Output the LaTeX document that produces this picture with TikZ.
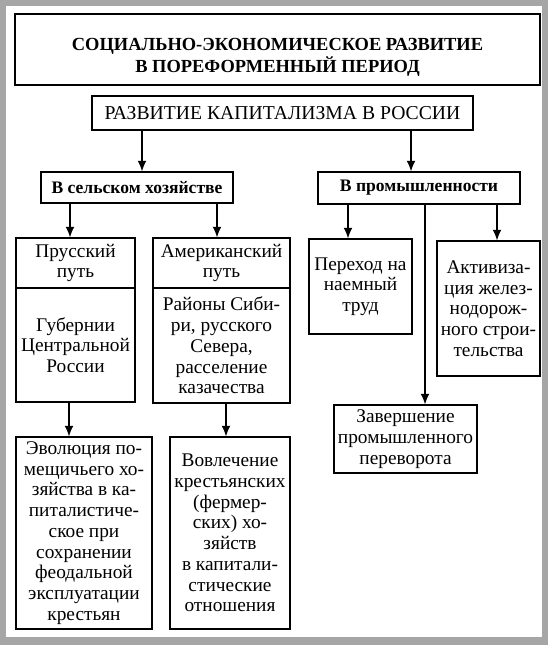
\documentclass[tikz,border=0pt]{standalone}
\usepackage{fontspec}
\setmainfont{Liberation Serif}
\usetikzlibrary{arrows.meta}

\begin{document}
\begin{tikzpicture}[x=0.02cm, y=-0.02cm,
    block/.style ={draw, thick, rectangle, inner sep=0pt, align=center,
      font=\fontsize{11}{11.8}\selectfont},
    heading/.style ={block, font=\bfseries\fontsize{10}{11}\selectfont},
    link/.style ={semithick, -{Latex[length=6pt, width=5pt]}}]
   % page with grey frame
   \fill[gray!70] (0,0) rectangle (548,645);
   \fill[white] (6,6) rectangle (542,637);
   \useasboundingbox (0,0) rectangle (548,645);

   \node[heading, font=\bfseries\fontsize{10.5}{11}\selectfont, minimum width=10.5cm, minimum height=1.42cm] (T) at (277.5,49.5)
     {\rule{0pt}{16pt}СОЦИАЛЬНО-ЭКОНОМИЧЕСКОЕ РАЗВИТИЕ\\В ПОРЕФОРМЕННЫЙ ПЕРИОД};
   \node[block, font=\fontsize{11.2}{12}\selectfont, minimum width=7.62cm, minimum height=0.68cm] (R) at (282.5,113)
     {РАЗВИТИЕ КАПИТАЛИЗМА В РОССИИ};
   \node[heading, minimum width=3.84cm, minimum height=0.62cm] (A) at (137,187.5) {В сельском хозяйстве};
   \node[heading, minimum width=4.04cm, minimum height=0.64cm] (I) at (419,188) {В промышленности};

   \node[block, minimum width=2.38cm, minimum height=1.0cm] (P) at (75.5,263) {Прусский\\путь};
   \node[block, minimum width=2.38cm, minimum height=2.28cm] (G) at (75.5,345) {Губернии\\Центральной\\России};
   \node[block, minimum width=2.74cm, minimum height=1.0cm] (M) at (221.5,263) {Американский\\путь};
   \node[block, minimum width=2.74cm, minimum height=2.3cm] (S) at (221.5,345.5)
     {Районы Сиби-\\ри, русского\\Севера,\\расселение\\казачества};
   \node[block, minimum width=2.72cm, minimum height=3.84cm] (E) at (84,533)
     {Эволюция по-\\мещичьего хо-\\зяйства в ка-\\питалистиче-\\ское при\\сохранении\\феодальной\\эксплуатации\\крестьян};
   \node[block, minimum width=2.4cm, minimum height=3.84cm] (V) at (230,533)
     {Вовлечение\\крестьянских\\(фермер-\\ских) хо-\\зяйств\\в капитали-\\стические\\отношения};

   \node[block, minimum width=2.06cm, minimum height=1.9cm] (H) at (360.5,286.5) {Переход на\\наемный\\труд};
   \node[block, minimum width=2.06cm, minimum height=2.7cm] (K) at (488.5,308.5)
     {Активиза-\\ция желез-\\нодорож-\\ного строи-\\тельства};
   \node[block, minimum width=2.86cm, minimum height=1.36cm] (Z) at (405.5,439) {Завершение\\промышленного\\переворота};

   \draw[link] (R.south -| 142,0) to (A.north -| 142,0);
   \draw[link] (R.south -| 411,0) to (I.north -| 411,0);
   \draw[link] (A.south -| 70,0) to (P.north -| 70,0);
   \draw[link] (A.south -| 217,0) to (M.north -| 217,0);
   \draw[link] (G.south -| 69,0) to (E.north -| 69,0);
   \draw[link] (S.south -| 226,0) to (V.north -| 226,0);
   \draw[link] (I.south -| 348,0) to (H.north -| 348,0);
   \draw[link] (I.south -| 497,0) to (K.north -| 497,0);
   \draw[link] (I.south -| 425,0) to (Z.north -| 425,0);
 \end{tikzpicture}
\end{document}
